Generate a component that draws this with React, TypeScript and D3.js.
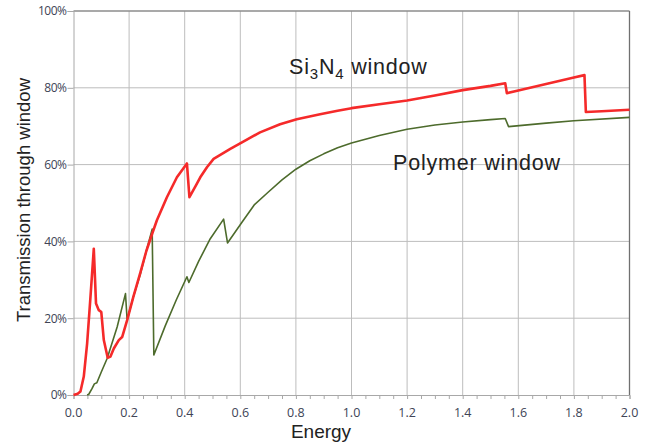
import { useEffect, useRef } from 'react';
import * as d3 from 'd3';

// Si3N4 window transmission (energy, percent)
const siEnergy = [0.0, 0.015, 0.025, 0.037, 0.049, 0.061, 0.073, 0.081, 0.091, 0.1, 0.109, 0.123, 0.133, 0.145, 0.163, 0.175, 0.193, 0.215, 0.241, 0.262, 0.283, 0.3, 0.336, 0.372, 0.408, 0.417, 0.44, 0.456, 0.48, 0.504, 0.534, 0.564, 0.606, 0.671, 0.743, 0.803, 0.887, 0.95, 1.0, 1.1, 1.2, 1.3, 1.4, 1.5, 1.553, 1.559, 1.6, 1.7, 1.8, 1.838, 1.843, 1.9, 2.0];
const siTrans = [0, 0.3, 0.9, 4.8, 13.4, 25.5, 38.1, 23.8, 22.1, 21.6, 14.3, 9.7, 10.0, 12.1, 14.3, 15.1, 19.5, 25.5, 32, 37.5, 42, 45.5, 51.5, 56.7, 60.3, 51.5, 54.5, 56.7, 59.3, 61.5, 62.8, 64.1, 65.8, 68.4, 70.5, 71.8, 73.1, 74.0, 74.7, 75.7, 76.7, 78.0, 79.4, 80.5, 81.2, 78.6, 79.3, 81.0, 82.7, 83.3, 73.7, 73.9, 74.3];

// Polymer window transmission
const polyEnergy = [0.049, 0.055, 0.067, 0.075, 0.084, 0.1, 0.121, 0.157, 0.187, 0.193, 0.215, 0.241, 0.262, 0.283, 0.289, 0.33, 0.37, 0.408, 0.415, 0.45, 0.492, 0.54, 0.554, 0.606, 0.65, 0.7, 0.75, 0.8, 0.85, 0.9, 0.95, 1.0, 1.05, 1.1, 1.2, 1.3, 1.4, 1.5, 1.553, 1.565, 1.7, 1.8, 2.0];
const polyTrans = [0, 0.2, 1.7, 2.9, 3.2, 6, 9.5, 17.7, 26.4, 19.5, 25.5, 31.6, 37.5, 43.2, 10.4, 18, 24.8, 30.8, 29.3, 34.8, 40.7, 45.8, 39.6, 45, 49.5, 52.8, 56.0, 58.8, 61.0, 62.8, 64.4, 65.6, 66.6, 67.6, 69.2, 70.3, 71.1, 71.7, 72.0, 69.9, 70.8, 71.4, 72.3];

const xTicks = [0, 0.2, 0.4, 0.6, 0.8, 1.0, 1.2, 1.4, 1.6, 1.8, 2.0];
const yTicks = [0, 20, 40, 60, 80, 100];

export default function App() {
  const ref = useRef<SVGSVGElement>(null);

  useEffect(() => {
    const svg = d3.select(ref.current);
    svg.selectAll('*').remove();

    const left = 73.5, right = 629.5, top = 11, bottom = 395;
    const x = d3.scaleLinear().domain([0, 2]).range([left, right]);
    const y = d3.scaleLinear().domain([0, 100]).range([bottom, top]);

    // Grid
    const grid = svg.append('g');
    grid.selectAll('line.v')
      .data(xTicks.slice(1, -1))
      .join('line')
      .attr('x1', d => x(d)).attr('x2', d => x(d))
      .attr('y1', top).attr('y2', bottom)
      .attr('stroke', '#bdbdbd').attr('stroke-width', 1);
    grid.selectAll('line.h')
      .data(yTicks.slice(1, -1))
      .join('line')
      .attr('x1', left).attr('x2', right)
      .attr('y1', d => y(d)).attr('y2', d => y(d))
      .attr('stroke', '#bdbdbd').attr('stroke-width', 1);

    // Frame: top and right darker
    svg.append('line')
      .attr('x1', left).attr('x2', right).attr('y1', top).attr('y2', top)
      .attr('stroke', '#8c8c8c').attr('stroke-width', 1.5);
    svg.append('line')
      .attr('x1', right).attr('x2', right).attr('y1', top).attr('y2', bottom)
      .attr('stroke', '#707070').attr('stroke-width', 1.3);

    // Axes
    const xAxis = svg.append('g')
      .attr('transform', `translate(0,${bottom})`)
      .call(d3.axisBottom(x).tickValues(d3.range(0, 2.0001, 0.05)).tickSize(4).tickFormat(() => ''));
    xAxis.select('.domain').attr('stroke', '#a8a8a8');
    xAxis.selectAll('.tick line').attr('stroke', '#a8a8a8');

    svg.append('g')
      .selectAll('text')
      .data(xTicks)
      .join('text')
      .attr('x', d => x(d))
      .attr('y', 417)
      .attr('text-anchor', 'middle')
      .attr('font-family', 'Open Sans, sans-serif')
      .attr('font-size', 12.5)
      .attr('fill', '#404456')
      .text(d => d3.format('.1f')(d));

    const yAxis = svg.append('g')
      .attr('transform', `translate(${left},0)`)
      .call(d3.axisLeft(y).tickValues(yTicks).tickSize(6).tickFormat(d => `${d}%`));
    yAxis.select('.domain').attr('stroke', '#a8a8a8');
    yAxis.selectAll('.tick line').attr('stroke', '#a8a8a8');
    yAxis.selectAll('.tick text')
      .attr('font-family', 'Open Sans, sans-serif')
      .attr('font-size', 12)
      .attr('fill', '#404456')
      .attr('x', -7)
      .attr('letter-spacing', -0.5);

    // Lines
    const siData = siEnergy.map((e, i) => [e, siTrans[i]] as [number, number]);
    const polyData = polyEnergy.map((e, i) => [e, polyTrans[i]] as [number, number]);
    const path = d3.line<[number, number]>().x(d => x(d[0])).y(d => y(d[1]));

    svg.append('path')
      .datum(polyData)
      .attr('fill', 'none')
      .attr('stroke', '#4d6b2c')
      .attr('stroke-width', 1.6)
      .attr('stroke-linejoin', 'round')
      .attr('d', path);

    svg.append('path')
      .datum(siData)
      .attr('fill', 'none')
      .attr('stroke', '#f52a2a')
      .attr('stroke-width', 2.6)
      .attr('stroke-linejoin', 'round')
      .attr('d', path);

    // Axis titles
    svg.append('text')
      .attr('x', 321).attr('y', 438)
      .attr('text-anchor', 'middle')
      .attr('font-family', 'Liberation Sans, Arial, sans-serif')
      .attr('font-size', 19)
      .attr('fill', '#222')
      .text('Energy');

    svg.append('text')
      .attr('transform', 'translate(30,200) rotate(-90)')
      .attr('text-anchor', 'middle')
      .attr('font-family', 'Liberation Sans, Arial, sans-serif')
      .attr('font-size', 18.5)
      .attr('fill', '#222')
      .text('Transmission through window');

    // Series labels
    const labelFont = { family: 'Liberation Sans, Arial, sans-serif', size: 21.5, spacing: 0.8 };
    const si = svg.append('text')
      .attr('x', 289).attr('y', 74)
      .attr('font-family', labelFont.family)
      .attr('font-size', labelFont.size)
      .attr('letter-spacing', labelFont.spacing)
      .attr('fill', '#222');
    si.append('tspan').text('Si');
    si.append('tspan').attr('font-size', 15).attr('dy', 5).text('3');
    si.append('tspan').attr('dy', -5).text('N');
    si.append('tspan').attr('font-size', 15).attr('dy', 5).text('4');
    si.append('tspan').attr('dy', -5).text(' window');

    svg.append('text')
      .attr('x', 393).attr('y', 170)
      .attr('font-family', labelFont.family)
      .attr('font-size', labelFont.size)
      .attr('letter-spacing', labelFont.spacing)
      .attr('fill', '#222')
      .text('Polymer window');
  }, []);

  return (
    <svg
      ref={ref}
      width={650}
      height={442}
      style={{ position: 'absolute', left: 0, top: 0, background: '#fff' }}
    />
  );
}
